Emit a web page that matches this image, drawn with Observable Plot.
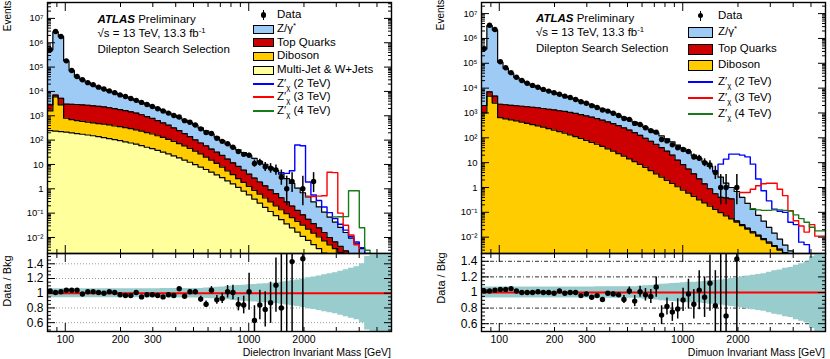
<!DOCTYPE html>
<html>
<head>
<meta charset="utf-8">
<script src="https://cdn.jsdelivr.net/npm/d3@7"></script>
<script src="https://cdn.jsdelivr.net/npm/@observablehq/plot@0.6"></script>
<style>
  html, body { margin: 0; padding: 0; background: #fff; }
  #chart { position: relative; width: 830px; height: 359px; overflow: hidden;
           font-family: "Liberation Sans", Arial, Helvetica, sans-serif; color: #000; }
  #chart svg { position: absolute; overflow: visible; }
  .t { position: absolute; white-space: nowrap; line-height: 1; }
  .box { position: absolute; border: 1px solid #000; box-sizing: border-box; }
  .ln { position: absolute; height: 2px; }
  sup { font-size: 68%; vertical-align: 0.5em; line-height: 0; }
  sub { font-size: 68%; vertical-align: -0.3em; line-height: 0; }
</style>
</head>
<body>
<div id="chart"></div>
<script>
// ---------------- bin edges (GeV) ----------------
const binEdges = [80, 85.58, 91.56, 97.95, 104.8, 112.1, 119.9, 128.3, 137.2, 146.8, 157.1, 168.0, 179.8, 192.3,
  205.7, 220.1, 235.5, 251.9, 269.5, 288.3, 308.4, 329.9, 353.0, 377.6, 404.0, 432.2, 462.3, 494.6, 529.1, 566.0,
  605.5, 647.8, 693.0, 741.4, 793.1, 848.5, 907.7, 971.0, 1038.8, 1111.3, 1188.9, 1271.9, 1360.6, 1455.6, 1557.2,
  1665.9, 1782.2, 1906.6, 2039.7, 2182.0, 2334.3, 2497.2, 2671.5, 2858.0, 3057.5, 3270.9, 3499.2, 3743.4, 4004.7,
  4284.2, 4583.2, 4903.1, 5245.3, 5611.4, 6003.0];

// ---------------- axis ticks / labels ----------------
const xTickLabels = [100, 200, 300, 1000, 2000];
const xMajorTicks = [100, 1000];
const xMinorTicks = [90, 200, 300, 400, 500, 600, 700, 800, 900, 2000, 3000, 4000, 5000];
const mainYTicks = [1e-2, 1e-1, 1, 10, 1e2, 1e3, 1e4, 1e5, 1e6, 1e7];
const mainYTickLabels = ["10\u207B\u00B2", "10\u207B\u00B9", "1", "10", "10\u00B2", "10\u00B3", "10\u2074", "10\u2075", "10\u2076", "10\u2077"];
const ratioYTicks = [0.6, 0.8, 1, 1.2, 1.4];
const ratioYTickLabels = ["0.6", "0.8", "1", "1.2", "1.4"];
const ratioGrid = [0.6, 0.8, 1.2, 1.4];

// ---------------- dielectron (left) ----------------
// stacked histogram boundaries (events per bin), starting at bin 0
const eeTotal = [5.2e5, 2.8e6, 1.8e6, 1.8e5, 7.1e4, 4.0e4, 3.0e4, 2.3e4, 1.8e4, 1.5e4,
  1.23e4, 1.02e4, 8700, 7200, 6200, 5100, 4300, 3500, 3000, 2450,
  2000, 1620, 1320, 1050, 830, 660, 525, 410, 316, 240,
  178, 132, 95, 69, 51, 40, 31, 23.4, 17.8, 13.5,
  10.2, 7.6, 5.6, 4.0, 2.6, 1.66, 1.07, 0.69, 0.46, 0.29,
  0.18, 0.11, 0.069, 0.043, 0.026, 0.016, 0.0095, 0.0058, 0.0035, 0.0021, 0.0013];
const eeTopStack = [2800, 7100, 5200, 3000, 2950, 2900, 2800, 2700, 2570, 2450,
  2300, 2140, 1950, 1780, 1620, 1450, 1290, 1100, 930, 780,
  630, 510, 410, 316, 245, 186, 138, 102, 76, 58,
  43, 32, 23.4, 16.6, 11.7, 8.3, 5.8, 4.0, 2.75, 1.9,
  1.32, 0.91, 0.63, 0.43, 0.29, 0.195, 0.13, 0.085, 0.056, 0.037,
  0.025, 0.016, 0.010, 0.0066, 0.0043, 0.0028, 0.0018];
const eeDibosonStack = [1580, 6000, 2800, 790, 690, 630, 590, 550, 510, 480,
  450, 420, 380, 355, 325, 295, 263, 234, 204, 178,
  151, 129, 107, 89, 72, 58, 46, 35, 27, 20,
  15, 11, 7.8, 5.5, 3.8, 2.6, 1.82, 1.26, 0.87, 0.60,
  0.42, 0.29, 0.20, 0.138, 0.095, 0.066, 0.046, 0.032, 0.022, 0.015,
  0.0105, 0.0072, 0.005, 0.0035, 0.0024, 0.0017];
const eeMultijet = [245, 234, 224, 214, 200, 186, 174, 162, 151, 138,
  126, 115, 105, 95, 85, 76, 68, 59, 51, 45,
  38, 32, 27, 22.4, 18.6, 15.1, 12.3, 9.8, 7.8, 6.2,
  4.8, 3.7, 2.9, 2.1, 1.58, 1.15, 0.81, 0.56, 0.38, 0.26,
  0.174, 0.117, 0.079, 0.054, 0.036, 0.025, 0.0166, 0.0112, 0.0076, 0.0051,
  0.0035, 0.0023, 0.0016];
const eeData = [5.2e5, 2.9e6, 1.8e6, 1.8e5, 7.2e4, 4.1e4, 3.0e4, 2.3e4, 1.9e4, 1.5e4,
  1.26e4, 1.05e4, 8900, 7200, 6200, 5100, 4300, 3550, 2900, 2400,
  1950, 1580, 1290, 1020, 890, 630, 540, 420, 290, 205,
  186, 120, 89, 71, 51, 34, 26, 24, 11, 12,
  8, 7, 6, 3, 1, 2, null, 1, null, 2];
const eeDataErrLo = [0,0,0,0,0,0,0,0,0,0, 0,0,0,0,0,0,0,0,0,0, 0,0,0,0,0,0,0,0,0,0,
  0,0,0,0,7,5.8, 5.1,4.9,3.3,3.4, 2.8,2.6,2.4,1.6,0.8,1.3, 0,0.8,0,1.3];
const eeDataErrHi = [0,0,0,0,0,0,0,0,0,0, 0,0,0,0,0,0,0,0,0,0, 0,0,0,0,0,0,0,0,0,0,
  0,0,0,0,7,5.8, 5.1,4.9,4.4,4.5, 3.9,3.8,3.6,2.9,2.3,2.6, 0,2.3,0,2.6];
const eeZp2Start = 43;
const eeZp2 = [4.6, 4.3, 5.5, 63, 59, 1.9, 0.56, 0.33, 0.18, 0.105, 0.06, 0.035, 0.02, 0.011, 0.0065, 0.0038, 0.0022, 0.0012];
const eeZp3Start = 48;
const eeZp3 = [0.50, 0.48, 0.50, 0.52, 4.8, 4.6, 0.1, 0.032, 0.0126, 0.005, 0.002];
const eeZp4Start = 53;
const eeZp4 = [0.07, 0.071, 0.072, 0.83, 0.83, 0.025, 0.003, 0.001];
const eeRatio = [1.03, 1.01, 1.02, 1.04, 1.04, 1.04, 0.99, 1.02, 1.02, 1.01,
  1.00, 1.02, 1.01, 0.98, 0.97, 0.97, 1.01, 0.95, 0.98, 0.98,
  0.97, 0.95, 0.98, 0.97, 1.06, 0.96, 1.02, 1.02, 0.92, 0.85,
  1.04, 0.91, 0.93, 1.02, 1.01, 0.85, 0.84, 1.02, 0.63, 0.84,
  0.78, 0.87, 1.11, 0.80, 0.36, 1.43, null, 1.47];
const eeRatioErr = [0.008, 0.008, 0.008, 0.008, 0.008, 0.008, 0.008, 0.008, 0.008, 0.008,
  0.008, 0.008, 0.008, 0.008, 0.008, 0.008, 0.008, 0.008, 0.008, 0.008,
  0.012, 0.013, 0.015, 0.017, 0.02, 0.025, 0.028, 0.032, 0.04, 0.045,
  0.05, 0.06, 0.07, 0.085, 0.1, 0.09, 0.12, 0.25, 0.2, 0.2,
  0.24, 0.28, 0.37, 0.75, 1.2, 1.1, null, 1.3];
const eeBand = [0.06, 0.06, 0.06, 0.06, 0.06, 0.06, 0.06, 0.06, 0.06, 0.06,
  0.06, 0.06, 0.06, 0.06, 0.06, 0.06, 0.06, 0.06, 0.06, 0.06,
  0.06, 0.065, 0.065, 0.065, 0.065, 0.065, 0.065, 0.065, 0.065, 0.07,
  0.075, 0.08, 0.085, 0.09, 0.10, 0.105, 0.11, 0.115, 0.12, 0.125,
  0.13, 0.135, 0.14, 0.15, 0.16, 0.17, 0.18, 0.195, 0.21, 0.22,
  0.235, 0.25, 0.265, 0.28, 0.30, 0.32, 0.34, 0.36, 0.40, 0.50,
  0.8, 0.8, 0.8, 0.8];

// ---------------- dimuon (right) ----------------
const mmTotal = [3.8e5, 3.3e6, 2.2e6, 1.1e5, 6.3e4, 4.0e4, 2.7e4, 2.04e4, 1.58e4, 1.29e4,
  1.07e4, 8900, 7600, 6600, 5600, 4800, 4200, 3500, 2950, 2500,
  2100, 1740, 1450, 1200, 1000, 810, 660, 540, 430, 340,
  263, 204, 158, 120, 91, 69, 51, 38, 28, 20,
  14.8, 10.5, 7.1, 4.4, 2.6, 1.5, 1.0, 0.69, 0.40, 0.23,
  0.13, 0.076, 0.044, 0.025, 0.0145, 0.0083, 0.0048, 0.0028, 0.0016];
const mmTopStack = [2000, 7100, 4800, 2240, 2140, 2040, 1950, 1860, 1780, 1700,
  1620, 1510, 1410, 1320, 1230, 1150, 1050, 955, 850, 760,
  676, 590, 513, 437, 372, 309, 251, 204, 162, 126,
  95, 72, 54, 40, 29, 20, 12.6, 8.3, 5.5, 3.55,
  2.24, 1.41, 0.89, 0.56, 0.40, 0.38, 0.35, 0.045, 0.032, 0.023,
  0.0165, 0.012, 0.0087, 0.0064, 0.0046, 0.0033, 0.0024, 0.0017];
const mmDibosonStack = [1000, 4800, 2500, 650, 575, 525, 480, 427, 380, 339,
  302, 269, 234, 204, 178, 155, 132, 112, 95, 79,
  66, 55, 45, 36, 29, 23, 18.2, 14.1, 11, 8.5,
  6.5, 4.8, 3.55, 2.63, 1.95, 1.45, 1.07, 0.79, 0.59, 0.44,
  0.32, 0.24, 0.178, 0.132, 0.098, 0.072, 0.054, 0.040, 0.029, 0.021,
  0.015, 0.011, 0.0079, 0.0058, 0.0042, 0.003, 0.0022, 0.0016];
const mmData = [3.9e5, 3.4e6, 2.3e6, 1.15e5, 6.6e4, 4.2e4, 2.75e4, 2.04e4, 1.58e4, 1.29e4,
  1.08e4, 8900, 7600, 6500, 5700, 4750, 4200, 3500, 2830, 2450,
  1970, 1670, 1320, 1190, 980, 790, 600, 550, 380, 345,
  255, 194, 169, 85, 75, 52, 40, 34, 28, 17,
  15, 10, 8, 4, 1, 1, null, 1];
const mmDataErrLo = [0,0,0,0,0,0,0,0,0,0, 0,0,0,0,0,0,0,0,0,0, 0,0,0,0,0,0,0,0,0,0,
  0,0,0,0,8.7,7.2, 6.3,5.8,5.3,4.1, 3.8,3.1,2.8,1.9,0.8,0.8, 0,0.8];
const mmDataErrHi = [0,0,0,0,0,0,0,0,0,0, 0,0,0,0,0,0,0,0,0,0, 0,0,0,0,0,0,0,0,0,0,
  0,0,0,0,8.7,7.2, 6.3,5.8,5.3,5.2, 4.9,4.3,3.9,3.2,2.3,2.3, 0,2.3];
const mmZp2Start = 43;
const mmZp2 = [4.7, 8.7, 13.8, 22, 22, 20, 17, 8.7, 2.2, 0.74, 0.29, 0.135, 0.11, 0.1, 0.04, 0.032, 0.0063, 0.005, 0.001];
const mmZp3Start = 48;
const mmZp3 = [0.63, 0.63, 0.85, 1.17, 1.41, 1.48, 1.48, 0.85, 0.47, 0.115, 0.046, 0.028, 0.016, 0.032, 0.011, 0.011];
const mmZp4Start = 50;
const mmZp4 = [0.14, 0.126, 0.12, 0.12, 0.126, 0.126, 0.12, 0.112, 0.079, 0.056, 0.04, 0.025, 0.018, 0.018];
const mmRatio = [1.02, 1.02, 1.03, 1.04, 1.04, 1.05, 1.02, 1.00, 1.00, 1.00,
  1.01, 1.00, 1.00, 0.99, 1.02, 0.99, 1.00, 1.00, 0.96, 0.98,
  0.94, 0.96, 0.91, 0.99, 0.98, 0.97, 0.91, 1.02, 0.89, 1.01,
  0.97, 0.95, 1.07, 0.71, 0.82, 0.75, 0.79, 0.905, 0.98, 0.85,
  1.03, 0.94, 1.12, 0.83, 0.38, 0.70, null, 1.43];
const mmRatioErr = [0.008, 0.008, 0.008, 0.008, 0.008, 0.008, 0.008, 0.008, 0.008, 0.008,
  0.008, 0.008, 0.008, 0.008, 0.008, 0.008, 0.008, 0.008, 0.01, 0.012,
  0.014, 0.016, 0.018, 0.02, 0.025, 0.03, 0.05, 0.05, 0.07, 0.07,
  0.08, 0.09, 0.13, 0.12, 0.11, 0.12, 0.13, 0.15, 0.19, 0.19,
  0.25, 0.26, 0.36, 0.45, 1.2, 0.9, null, 1.4];
const mmBand = [0.07, 0.07, 0.07, 0.07, 0.07, 0.07, 0.07, 0.07, 0.07, 0.07,
  0.07, 0.07, 0.07, 0.07, 0.07, 0.07, 0.07, 0.07, 0.07, 0.07,
  0.07, 0.075, 0.075, 0.075, 0.075, 0.075, 0.075, 0.075, 0.075, 0.08,
  0.085, 0.09, 0.095, 0.105, 0.11, 0.115, 0.12, 0.125, 0.13, 0.13,
  0.135, 0.14, 0.15, 0.155, 0.16, 0.17, 0.18, 0.19, 0.20, 0.21,
  0.22, 0.23, 0.24, 0.26, 0.28, 0.29, 0.31, 0.32, 0.35, 0.37,
  0.39, 0.46, 0.6, 0.6];

// ---------------- styling ----------------
const C = {z: "#9dcbf5", top: "#cc0000", db: "#ffcc00", mj: "#ffff9c",
           zp2: "#0000ff", zp3: "#ff0000", zp4: "#1a7a1a", band: "#99cccc"};
const FONT = '"Liberation Sans", Arial, Helvetica, sans-serif';

// ---------------- helpers ----------------
function steps(values, start = 0) {
  const rows = values.map((v, i) => ({x: binEdges[start + i], y: v}));
  rows.push({x: binEdges[start + values.length], y: values[values.length - 1]});
  return rows;
}
function center(i) { return Math.sqrt(binEdges[i] * binEdges[i + 1]); }
function points(values, lo, hi) {
  const out = [];
  values.forEach((v, i) => {
    if (v == null) return;
    out.push({x: center(i), y: v, y1: v - lo[i], y2: v + hi[i]});
  });
  return out;
}
function minorLogTicks(domain) {
  const t = [];
  for (let e = -4; e <= 8; e++) for (let k = 2; k <= 9; k++) {
    const v = k * Math.pow(10, e);
    if (v > domain[0] && v < domain[1]) t.push(v);
  }
  return t;
}
function frameTicks(xMaj, xMin, yMaj, yMin) {
  const o = {fill: "none", label: null, stroke: "#000"};
  return [
    Plot.axisY(yMaj, {...o, anchor: "left", tickSize: -8}),
    Plot.axisY(yMin, {...o, anchor: "left", tickSize: -4}),
    Plot.axisY(yMaj, {...o, anchor: "right", tickSize: -8}),
    Plot.axisY(yMin, {...o, anchor: "right", tickSize: -4}),
    Plot.axisX(xMaj, {...o, anchor: "top", tickSize: -8}),
    Plot.axisX(xMin, {...o, anchor: "top", tickSize: -4}),
    Plot.axisX(xMaj, {...o, anchor: "bottom", tickSize: -8}),
    Plot.axisX(xMin, {...o, anchor: "bottom", tickSize: -4})
  ];
}

function mainPanel(cfg) {
  const yMin = cfg.yDomain[0];
  const marks = [];
  for (const s of cfg.stack)
    marks.push(Plot.areaY(steps(s.values), {x: "x", y1: yMin, y2: "y", curve: "step-after", fill: s.color, clip: true}));
  for (const s of cfg.stack)
    marks.push(Plot.lineY(steps(s.values), {x: "x", y: "y", curve: "step-after", stroke: "#000", strokeWidth: 1.2, clip: true}));
  for (const s of cfg.signals)
    marks.push(Plot.lineY(steps(s.values, s.start), {x: "x", y: "y", curve: "step-after", stroke: s.color, strokeWidth: 1.4, clip: true}));
  const pts = points(cfg.data, cfg.errLo, cfg.errHi);
  marks.push(Plot.ruleX(pts, {x: "x", y1: "y1", y2: "y2", stroke: "#000", strokeWidth: 1.5, clip: true}));
  marks.push(Plot.dot(pts, {x: "x", y: "y", r: 2.7, fill: "#000", stroke: null, clip: true}));
  marks.push(Plot.frame({stroke: "#000", strokeWidth: 1.4}));
  const lab = new Map(mainYTicks.map((v, i) => [v, mainYTickLabels[i]]));
  const yT = mainYTicks.filter(v => v > cfg.yDomain[0] && v < cfg.yDomain[1]);
  marks.push(Plot.axisY(yT, {anchor: "left", ticks: Infinity, tickSize: 0, tickPadding: 4, tickFormat: d => lab.get(d), fontSize: 9.5, label: null}));
  marks.push(...frameTicks(xMajorTicks, xMinorTicks, yT, minorLogTicks(cfg.yDomain)));
  const svg = Plot.plot({
    width: cfg.width, height: 253,
    marginLeft: cfg.marginLeft, marginRight: cfg.marginRight, marginTop: 2, marginBottom: 0,
    x: {type: "log", domain: [80, 6000], label: null},
    y: {type: "log", domain: cfg.yDomain, label: null},
    style: {fontFamily: FONT, color: "#000", background: "transparent", overflow: "visible"},
    marks
  });
  svg.style.left = cfg.left + "px"; svg.style.top = "0px";
  return svg;
}

function ratioPanel(cfg) {
  const marks = [];
  marks.push(Plot.ruleY(ratioGrid, {stroke: cfg.gridColor, strokeDasharray: cfg.gridDash, strokeWidth: 1}));
  marks.push(Plot.areaY(steps(cfg.band), {x: "x", y1: d => 1 - d.y, y2: d => 1 + d.y, curve: "step-after", fill: C.band, clip: true}));
  marks.push(Plot.ruleY([1], {stroke: "#ff0000", strokeWidth: 2}));
  const pts = points(cfg.ratio, cfg.err, cfg.err);
  marks.push(Plot.ruleX(pts, {x: "x", y1: "y1", y2: "y2", stroke: "#000", strokeWidth: 1.5, clip: true}));
  marks.push(Plot.dot(pts, {x: "x", y: "y", r: 2.7, fill: "#000", stroke: null, clip: true}));
  marks.push(Plot.frame({stroke: "#000", strokeWidth: 1.4}));
  const lab = new Map(ratioYTicks.map((v, i) => [v, ratioYTickLabels[i]]));
  marks.push(Plot.axisY(ratioYTicks, {anchor: "left", tickSize: 0, tickPadding: 4, tickFormat: d => lab.get(d), fontSize: 12, label: null}));
  marks.push(Plot.axisX(xTickLabels, {anchor: "bottom", ticks: Infinity, tickSize: 0, tickPadding: 4, tickFormat: d => String(d), fontSize: 10.5, label: null}));
  const yMinor = [];
  for (let v = 0.5; v <= 1.5001; v += 0.05) {
    const r = Math.round(v * 100) / 100;
    if (r > cfg.yDomain[0] && r < cfg.yDomain[1] && !ratioYTicks.includes(r)) yMinor.push(r);
  }
  marks.push(...frameTicks(xMajorTicks, xMinorTicks, ratioYTicks, yMinor));
  const svg = Plot.plot({
    width: cfg.width, height: 106,
    marginLeft: cfg.marginLeft, marginRight: cfg.marginRight, marginTop: 0, marginBottom: 28,
    x: {type: "log", domain: [80, 6000], label: null},
    y: {domain: cfg.yDomain, label: null},
    style: {fontFamily: FONT, color: "#000", background: "transparent", overflow: "visible"},
    marks
  });
  svg.style.left = cfg.left + "px"; svg.style.top = "253px";
  return svg;
}

// ---------------- build ----------------
const root = document.getElementById("chart");

root.appendChild(mainPanel({
  left: 0, width: 400, marginLeft: 47, marginRight: 9, yDomain: [2.2e-3, 4.5e7],
  stack: [
    {values: eeTotal, color: C.z},
    {values: eeTopStack, color: C.top},
    {values: eeDibosonStack, color: C.db},
    {values: eeMultijet, color: C.mj}
  ],
  signals: [
    {values: eeZp2, start: eeZp2Start, color: C.zp2},
    {values: eeZp3, start: eeZp3Start, color: C.zp3},
    {values: eeZp4, start: eeZp4Start, color: C.zp4}
  ],
  data: eeData, errLo: eeDataErrLo, errHi: eeDataErrHi
}));
root.appendChild(ratioPanel({
  left: 0, width: 400, marginLeft: 47, marginRight: 9, yDomain: [0.48, 1.54],
  band: eeBand, ratio: eeRatio, err: eeRatioErr, gridColor: "#999", gridDash: "1,2"
}));
root.appendChild(mainPanel({
  left: 430, width: 400, marginLeft: 51, marginRight: 5, yDomain: [2.2e-3, 2.8e7],
  stack: [
    {values: mmTotal, color: C.z},
    {values: mmTopStack, color: C.top},
    {values: mmDibosonStack, color: C.db}
  ],
  signals: [
    {values: mmZp2, start: mmZp2Start, color: C.zp2},
    {values: mmZp3, start: mmZp3Start, color: C.zp3},
    {values: mmZp4, start: mmZp4Start, color: C.zp4}
  ],
  data: mmData, errLo: mmDataErrLo, errHi: mmDataErrHi
}));
root.appendChild(ratioPanel({
  left: 430, width: 400, marginLeft: 51, marginRight: 5, yDomain: [0.5, 1.5],
  band: mmBand, ratio: mmRatio, err: mmRatioErr, gridColor: "#333", gridDash: "4,2,1,2"
}));

// ---------------- text overlays ----------------
function text(html, x, y, size, opts = {}) {
  const d = document.createElement("div");
  d.className = "t";
  d.innerHTML = html;
  d.style.left = x + "px"; d.style.top = y + "px";
  d.style.fontSize = size + "px";
  d.style.transform = opts.transform || "translateY(-50%)";
  root.appendChild(d);
  return d;
}
function rect(x, y, w, h, color) {
  const d = document.createElement("div");
  d.className = "box";
  Object.assign(d.style, {left: x + "px", top: y + "px", width: w + "px", height: h + "px", background: color});
  root.appendChild(d);
}
function hline(x, y, w, color) {
  const d = document.createElement("div");
  d.className = "ln";
  Object.assign(d.style, {left: x + "px", top: (y - 1) + "px", width: w + "px", background: color});
  root.appendChild(d);
}
function dataMarker(cx, cy) {
  const bar = document.createElement("div");
  Object.assign(bar.style, {position: "absolute", left: (cx - 0.75) + "px", top: (cy - 5) + "px", width: "1.5px", height: "10px", background: "#000"});
  root.appendChild(bar);
  const dot = document.createElement("div");
  Object.assign(dot.style, {position: "absolute", left: (cx - 2.6) + "px", top: (cy - 2.6) + "px", width: "5.2px", height: "5.2px", borderRadius: "50%", background: "#000"});
  root.appendChild(dot);
}

const atlasLines = ['<b><i>ATLAS</i></b> Preliminary', '\u221As = 13 TeV, 13.3 fb<sup>-1</sup>', 'Dilepton Search Selection'];
const zpLabel = m => `Z\u2032<sub>\u03C7</sub> (${m} TeV)`;

function legend(cfg) {
  atlasLines.forEach((l, i) => text(l, cfg.atlasX, cfg.atlasY[i], 11.5));
  cfg.items.forEach((it, i) => {
    const y = cfg.rows[i];
    if (it.kind === "data") dataMarker(cfg.boxX + cfg.boxW / 2, y);
    else if (it.kind === "box") rect(cfg.boxX, y - cfg.boxH / 2, cfg.boxW, cfg.boxH, it.color);
    else hline(cfg.boxX, y, cfg.boxW, it.color);
    text(it.label, cfg.textX, y, 11.5);
  });
}

legend({
  atlasX: 97.5, atlasY: [19.5, 34, 50],
  boxX: 253, boxW: 21, boxH: 9, textX: 277,
  rows: [15, 29.3, 42.7, 56, 70, 83.5, 97.3, 110.7],
  items: [
    {kind: "data", label: "Data"},
    {kind: "box", color: C.z, label: "Z/\u03B3<sup>*</sup>"},
    {kind: "box", color: C.top, label: "Top Quarks"},
    {kind: "box", color: C.db, label: "Diboson"},
    {kind: "box", color: C.mj, label: "Multi-Jet &amp; W+Jets"},
    {kind: "line", color: C.zp2, label: zpLabel(2)},
    {kind: "line", color: C.zp3, label: zpLabel(3)},
    {kind: "line", color: C.zp4, label: zpLabel(4)}
  ]
});
legend({
  atlasX: 536, atlasY: [18.5, 33, 48.5],
  boxX: 688, boxW: 25, boxH: 11, textX: 718,
  rows: [15.7, 32.3, 49.3, 65, 81.7, 98.3, 114.3],
  items: [
    {kind: "data", label: "Data"},
    {kind: "box", color: C.z, label: "Z/\u03B3<sup>*</sup>"},
    {kind: "box", color: C.top, label: "Top Quarks"},
    {kind: "box", color: C.db, label: "Diboson"},
    {kind: "line", color: C.zp2, label: zpLabel(2)},
    {kind: "line", color: C.zp3, label: zpLabel(3)},
    {kind: "line", color: C.zp4, label: zpLabel(4)}
  ]
});

// axis titles
const rot = "translate(-50%,-50%) rotate(-90deg)";
text("Events", 7.5, 16, 10, {transform: rot});
text("Data / Bkg", 7, 281, 11, {transform: rot});
text("Events", 441, 15, 10, {transform: rot});
text("Data / Bkg", 441, 278, 11, {transform: rot});
text("Dielectron Invariant Mass [GeV]", 391, 352, 10.5, {transform: "translate(-100%,-50%)"});
text("Dimuon Invariant Mass [GeV]", 825, 352, 10.5, {transform: "translate(-100%,-50%)"});
</script>
</body>
</html>
